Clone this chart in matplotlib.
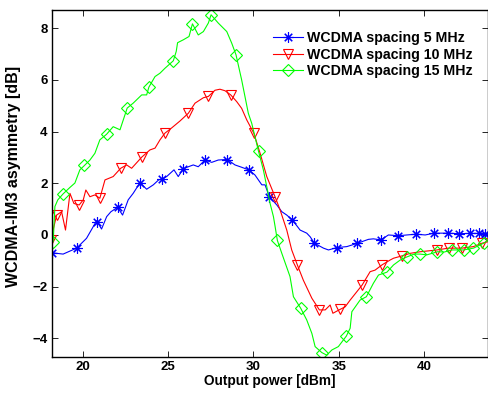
import matplotlib
matplotlib.use('Agg')
import matplotlib.pyplot as plt
from matplotlib.lines import Line2D

plt.rcParams['font.family'] = ['Liberation Sans', 'DejaVu Sans']
plt.rcParams['font.weight'] = 'bold'
plt.rcParams['font.size'] = 9.5

# WCDMA spacing 5 MHz
x5 = [18.22, 18.86, 19.65, 20.23, 20.82, 21.11, 21.41, 21.66, 22.05, 22.34,
      22.67, 22.96, 23.36, 23.75, 24.14, 24.45, 24.66, 24.92, 25.35, 25.60,
      25.89, 26.19, 26.48, 26.77, 27.16, 27.56, 27.94, 28.47, 28.92, 29.31,
      29.72, 30.09, 30.29, 30.49, 30.68, 30.93, 31.37, 31.66, 31.95, 32.28,
      32.73, 33.12, 33.32, 33.57, 34.10, 34.39, 34.88, 35.47, 36.09, 36.73,
      37.02, 37.46, 37.90, 38.49, 38.98, 39.53, 40.05, 40.58, 41.36, 42.05,
      42.65, 43.18, 43.57, 43.75]
y5 = [-0.69, -0.74, -0.51, -0.13, 0.55, 0.23, 0.71, 0.90, 1.07, 0.77,
      1.36, 1.61, 2.02, 1.77, 1.94, 2.13, 2.17, 2.26, 2.52, 2.26,
      2.56, 2.64, 2.71, 2.64, 2.90, 2.81, 2.90, 2.92, 2.71, 2.62,
      2.52, 2.32, 2.13, 1.94, 1.94, 1.48, 1.16, 0.90, 0.77, 0.58,
      0.19, 0.07, -0.07, -0.32, -0.51, -0.58, -0.49, -0.45, -0.32, -0.17,
      -0.15, -0.19, 0.00, -0.03, 0.00, 0.03, 0.00, 0.07, 0.07, 0.05,
      0.06, 0.06, 0.05, 0.06]
mx5 = [18.22, 19.65, 20.86, 22.05, 23.36, 24.66, 25.89, 27.16, 28.47, 29.72,
       30.93, 32.28, 33.57, 34.88, 36.09, 37.46, 38.49, 39.53, 40.58, 41.36,
       42.05, 42.65, 43.18, 43.57]
my5 = [-0.69, -0.51, 0.52, 1.07, 2.02, 2.17, 2.56, 2.90, 2.92, 2.52,
       1.48, 0.58, -0.32, -0.49, -0.32, -0.19, -0.03, 0.03, 0.07, 0.07,
       0.05, 0.06, 0.06, 0.05]

# WCDMA spacing 10 MHz
x10 = [18.14, 18.48, 18.77, 19.00, 19.26, 19.49, 19.80, 20.04, 20.19, 20.43,
       20.72, 21.01, 21.31, 21.79, 22.23, 22.58, 22.87, 23.46, 23.94, 24.24,
       24.53, 24.82, 25.21, 25.70, 26.19, 26.58, 27.07, 27.36, 27.75, 28.04,
       28.34, 28.67, 29.02, 29.31, 29.61, 30.02, 30.39, 30.78, 31.27, 31.56,
       31.95, 32.24, 32.57, 32.92, 33.42, 33.86, 34.20, 34.49, 34.65, 35.07,
       35.37, 35.66, 36.36, 36.83, 37.12, 37.52, 38.00, 38.20, 38.69, 39.18,
       39.76, 40.74, 41.42, 42.20, 42.88, 43.37, 43.74]
y10 = [-0.19, 0.77, 0.90, 0.19, 1.61, 1.22, 1.16, 1.36, 1.74, 1.48,
       1.55, 1.42, 2.13, 2.26, 2.58, 2.71, 2.58, 3.01, 3.29, 3.36,
       3.68, 3.94, 4.14, 4.41, 4.71, 5.10, 5.31, 5.36, 5.60, 5.64,
       5.58, 5.42, 5.16, 4.90, 4.45, 3.94, 3.16, 2.26, 1.47, 0.97,
       0.19, -0.58, -1.16, -1.75, -2.45, -2.90, -2.90, -2.71, -3.03, -2.88,
       -2.78, -2.52, -1.94, -1.42, -1.36, -1.16, -0.97, -0.90, -0.81, -0.71,
       -0.65, -0.58, -0.51, -0.51, -0.45, -0.32, -0.26]
mx10 = [18.14, 18.48, 19.80, 21.01, 22.23, 23.46, 24.82, 26.19, 27.36, 28.67,
        30.02, 31.27, 32.57, 33.86, 35.07, 36.36, 37.52, 38.69, 40.74, 41.42,
        42.20, 43.37]
my10 = [-0.19, 0.77, 1.16, 1.42, 2.58, 3.01, 3.94, 4.71, 5.36, 5.42,
        3.94, 1.47, -1.16, -2.90, -2.88, -1.94, -1.16, -0.81, -0.58, -0.51,
        -0.51, -0.32]

# WCDMA spacing 15 MHz
x15 = [18.28, 18.38, 18.55, 18.86, 19.26, 19.55, 19.84, 20.11, 20.43, 20.72,
       21.01, 21.41, 21.79, 22.19, 22.48, 22.61, 22.96, 23.46, 23.75, 23.88,
       24.24, 24.53, 24.82, 25.31, 25.48, 25.56, 25.89, 26.23, 26.43, 26.77,
       27.07, 27.36, 27.52, 27.94, 28.44, 28.73, 28.98, 29.31, 29.70, 29.90,
       30.30, 30.58, 30.78, 30.97, 31.17, 31.27, 31.40, 31.66, 32.14, 32.34,
       32.77, 33.12, 33.42, 33.61, 34.00, 34.29, 34.59, 34.97, 35.44, 35.66,
       35.76, 36.24, 36.61, 37.02, 37.32, 37.81, 38.20, 38.59, 38.98, 39.41,
       39.76, 40.15, 40.77, 41.17, 41.62, 42.30, 42.88, 43.47, 43.76]
y15 = [-0.26, 1.10, 1.36, 1.59, 1.84, 2.01, 2.52, 2.69, 2.90, 3.16,
       3.68, 3.90, 4.19, 4.07, 4.65, 4.91, 5.10, 5.42, 5.42, 5.72,
       6.13, 6.26, 6.45, 6.74, 7.10, 7.44, 7.55, 7.68, 8.17, 7.74,
       7.87, 8.20, 8.52, 8.20, 7.87, 7.42, 6.97, 6.00, 4.71, 4.32,
       3.23, 2.52, 1.87, 1.23, 0.71, 0.32, -0.21, -0.71, -1.61, -2.39,
       -2.84, -3.29, -3.81, -4.32, -4.55, -4.65, -4.45, -4.32, -3.91, -3.61,
       -2.97, -2.52, -2.39, -1.87, -1.55, -1.44, -1.16, -0.97, -0.85, -0.74,
       -0.74, -0.77, -0.65, -0.66, -0.58, -0.58, -0.51, -0.32, -0.19]
mx15 = [18.28, 18.86, 20.11, 21.41, 22.61, 23.88, 25.31, 26.43, 27.52, 28.98,
        30.30, 31.40, 32.77, 34.00, 35.44, 36.61, 37.81, 38.98, 39.76, 40.77,
        41.62, 42.30, 42.88, 43.47]
my15 = [-0.26, 1.59, 2.69, 3.90, 4.91, 5.72, 6.74, 8.17, 8.52, 6.97,
        3.23, -0.21, -2.84, -4.55, -3.91, -2.39, -1.44, -0.85, -0.74, -0.65,
        -0.58, -0.58, -0.51, -0.32]

labels = ['WCDMA spacing 5 MHz', 'WCDMA spacing 10 MHz', 'WCDMA spacing 15 MHz']

fig = plt.figure(figsize=(4.89, 3.95), dpi=100)
ax = fig.add_axes([0.106, 0.097, 0.892, 0.878])

# (8, 2, 0) gives a matlab-like asterisk
series = [(x5, y5, mx5, my5, 'b', (8, 2, 0), 7.5),
          (x10, y10, mx10, my10, 'r', 'v', 7.5),
          (x15, y15, mx15, my15, '#00ff00', 'D', 6)]
handles = []
for (x, y, mx, my, c, m, ms), lab in zip(series, labels):
    ax.plot(x, y, color=c, lw=0.8)
    ax.plot(mx, my, ls='none', marker=m, ms=ms, mfc='none', mec=c, mew=0.8)
    handles.append(Line2D([], [], color=c, lw=0.8, marker=m, ms=ms,
                          mfc='none', mec=c, mew=0.8, label=lab))

ax.set_xlim(18.2, 43.73)
ax.set_ylim(-4.71, 8.71)
ax.set_xticks([20, 25, 30, 35, 40])
ax.set_yticks([-4, -2, 0, 2, 4, 6, 8])
ax.tick_params(direction='in', top=True, right=True, length=4, width=0.6,
               labelsize=9.5, pad=3)
for sp in ax.spines.values():
    sp.set_linewidth(1.0)

ax.set_xlabel('Output power [dBm]', fontsize=9.8, fontweight='bold', labelpad=1)
ax.set_ylabel('WCDMA-IM3 asymmetry [dB]', fontsize=11.5, fontweight='bold')
ax.yaxis.set_label_coords(-0.07, 0.52)

ax.legend(handles=handles, loc='upper left', frameon=False, fontsize=10.2,
          bbox_to_anchor=(0.507, 0.94), borderaxespad=0, borderpad=0,
          handlelength=2.1, handletextpad=0.3, labelspacing=0.2)

fig.savefig('out.png', dpi=100)
